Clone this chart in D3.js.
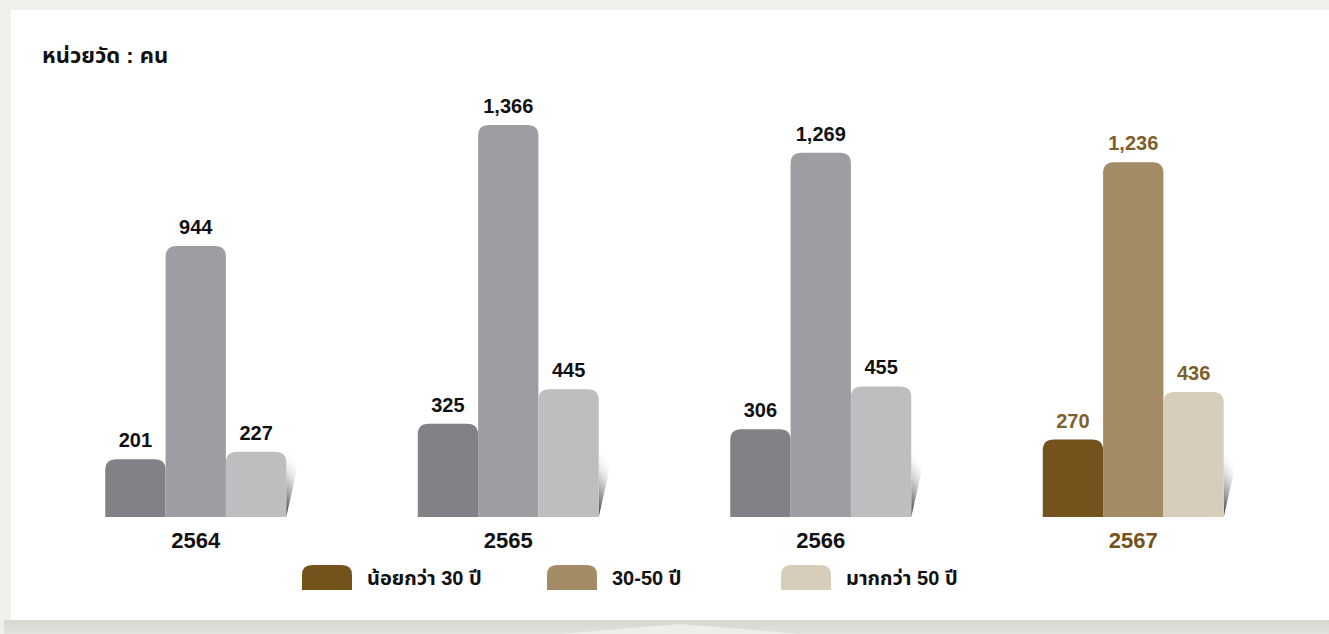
<!DOCTYPE html>
<html>
<head>
<meta charset="utf-8">
<script src="https://cdn.jsdelivr.net/npm/d3@7"></script>
<style>
  body { margin: 0; background: #f1efea; overflow: hidden; }
  svg { display: block; }
  text { font-family: "Liberation Sans", "Noto Sans Thai", "Noto Sans", sans-serif; }
</style>
</head>
<body>
<script>
var width = 1329,
    height = 634;

// data
var years = ["2564", "2565", "2566", "2567"];
var series = ["น้อยกว่า 30 ปี", "30-50 ปี", "มากกว่า 50 ปี"];
var under30 = [201, 325, 306, 270];
var age30to50 = [944, 1366, 1269, 1236];
var over50 = [227, 445, 455, 436];

var greys = ["#818186", "#9d9ea2", "#bdbec0"];
var browns = ["#74521c", "#a38b66", "#d6cdbb"];

var values = [under30, age30to50, over50];

var svg = d3.select("body").append("svg")
    .attr("width", width)
    .attr("height", height);

// panel + bottom strip
svg.append("rect").attr("x", 11).attr("y", 10).attr("width", width - 11).attr("height", 610).attr("fill", "#fff");

var defs = svg.append("defs");
var strip = defs.append("linearGradient").attr("id", "strip").attr("x1", 0).attr("y1", 0).attr("x2", 0).attr("y2", 1);
strip.append("stop").attr("offset", "0%").attr("stop-color", "#d6d5ce");
strip.append("stop").attr("offset", "100%").attr("stop-color", "#e2e1dc");
svg.append("rect").attr("x", 4).attr("y", 620).attr("width", width - 4).attr("height", 14).attr("fill", "url(#strip)");
svg.append("path")
    .attr("d", "M560,634 Q680,624 680,624 Q680,624 800,634 Z")
    .attr("fill", "#efede8");

var shade = defs.append("linearGradient").attr("id", "shade").attr("x1", 0).attr("y1", 1).attr("x2", 0.3).attr("y2", 0);
shade.append("stop").attr("offset", "0%").attr("stop-color", "#222").attr("stop-opacity", 0.95);
shade.append("stop").attr("offset", "55%").attr("stop-color", "#999").attr("stop-opacity", 0.5);
shade.append("stop").attr("offset", "100%").attr("stop-color", "#fff").attr("stop-opacity", 0);

svg.append("text")
    .attr("x", 42).attr("y", 63)
    .attr("font-size", 22).attr("font-weight", "bold")
    .attr("fill", "#111")
    .text("หน่วยวัด : คน");

var x0 = d3.scaleBand().domain(years).range([39.5, 1289.5]);
var groupW = 181;
var x1 = d3.scaleBand().domain(series).range([0, groupW]);
var y = d3.scaleLinear().domain([0, 1366]).range([517, 125]);

function topRounded(x, yTop, w, h, r) {
  r = Math.min(r, h, w / 2);
  return "M" + x + "," + (yTop + h) +
    "V" + (yTop + r) +
    "Q" + x + "," + yTop + " " + (x + r) + "," + yTop +
    "H" + (x + w - r) +
    "Q" + (x + w) + "," + yTop + " " + (x + w) + "," + (yTop + r) +
    "V" + (yTop + h) + "Z";
}

var rows = years.map(function(yr, i) {
  return { year: yr, i: i, vals: values.map(function(v) { return v[i]; }) };
});

var groups = svg.selectAll("g.year")
    .data(rows)
    .enter().append("g")
    .attr("class", "year")
    .attr("transform", function(d) { return "translate(" + (x0(d.year) + (x0.bandwidth() - groupW) / 2) + ",0)"; });

// shadow behind last bar
groups.append("path")
    .attr("d", function() {
      var xr = groupW;
      return "M" + xr + "," + y(0) + "L" + (xr + 15) + "," + (y(0) - 66) + "L" + xr + "," + (y(0) - 66) + "Z";
    })
    .attr("fill", "url(#shade)");

groups.selectAll("path.bar")
    .data(function(d) { return d.vals.map(function(v, k) { return { v: v, k: k, i: d.i }; }); })
    .enter().append("path")
    .attr("class", "bar")
    .attr("d", function(d) {
      return topRounded(x1(series[d.k]), y(d.v), x1.bandwidth(), y(0) - y(d.v), 11);
    })
    .attr("fill", function(d) { return d.i === 3 ? browns[d.k] : greys[d.k]; });

groups.selectAll("text.val")
    .data(function(d) { return d.vals.map(function(v, k) { return { v: v, k: k, i: d.i }; }); })
    .enter().append("text")
    .attr("class", "val")
    .attr("x", function(d) { return x1(series[d.k]) + x1.bandwidth() / 2; })
    .attr("y", function(d) { return y(d.v) - 12; })
    .attr("text-anchor", "middle")
    .attr("font-size", 20)
    .attr("font-weight", "bold")
    .attr("fill", function(d) { return d.i === 3 ? "#7d5f2e" : "#111"; })
    .text(function(d) { return d3.format(",")(d.v); });

groups.append("text")
    .attr("x", groupW / 2)
    .attr("y", 548)
    .attr("text-anchor", "middle")
    .attr("font-size", 22)
    .attr("font-weight", "bold")
    .attr("fill", function(d) { return d.i === 3 ? "#74521c" : "#111"; })
    .text(function(d) { return d.year; });

// legend
var legendX = [302, 547, 781];
var legend = svg.selectAll("g.legend")
    .data(series)
    .enter().append("g")
    .attr("class", "legend")
    .attr("transform", function(d, i) { return "translate(" + legendX[i] + ",565)"; });

legend.append("path")
    .attr("d", topRounded(0, 0, 50, 25, 10))
    .attr("fill", function(d, i) { return browns[i]; });

legend.append("text")
    .attr("x", 65)
    .attr("y", 20)
    .attr("font-size", 20)
    .attr("font-weight", "bold")
    .attr("fill", "#111")
    .text(function(d) { return d; });
</script>
</body>
</html>
